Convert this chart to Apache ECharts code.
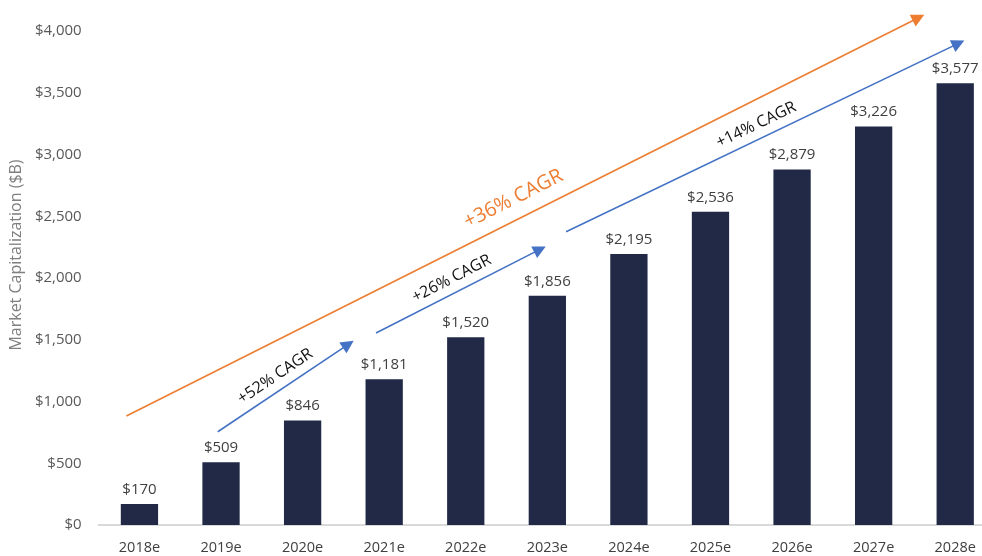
<!DOCTYPE html>
<html>
<head>
<meta charset="utf-8">
<script src="https://cdn.jsdelivr.net/npm/echarts@6/dist/echarts.min.js"></script>
<style>html,body{margin:0;padding:0;background:#fff;overflow:hidden;width:982px;height:556px}#c{width:996px;height:556px}</style>
</head>
<body>
<div id="c"></div>
<script>
var categories = ['2018e','2019e','2020e','2021e','2022e','2023e','2024e','2025e','2026e','2027e','2028e'];
var marketCap = [170, 509, 846, 1181, 1520, 1856, 2195, 2536, 2879, 3226, 3577];
var yTicks = {min: 0, max: 4000, interval: 500};
// Annotation arrows in data units (x: category band units from left edge, y: $B)
var arrowTotal = [[0.34, 883], [10.05, 4108]];
var arrowSeg1 = [[1.46, 755], [3.06, 1463]];
var arrowSeg2 = [[3.40, 1555], [5.41, 2232]];
var arrowSeg3 = [[5.73, 2375], [10.54, 3900]];
var arrowLabels = ['+36% CAGR', '+52% CAGR', '+26% CAGR', '+14% CAGR'];

var FONT = 'Open Sans';
var chart = echarts.init(document.getElementById('c'), null, {renderer: 'canvas'});
function money(v){ return '$' + Number(v).toLocaleString('en-US'); }

chart.setOption({
  animation: false,
  textStyle: {fontFamily: FONT},
  grid: {left: 97, top: 31, right: 0, bottom: 31, containLabel: false},
  xAxis: [{
    type: 'category',
    data: categories,
    axisLine: {lineStyle: {color: '#d9d9d9', width: 2}},
    axisTick: {show: false},
    axisLabel: {color: '#404040', fontSize: 14.5, margin: 15, fontFamily: FONT}
  }, {
    type: 'value', min: 0, max: 11, show: false
  }],
  yAxis: {
    type: 'value',
    min: yTicks.min, max: yTicks.max, interval: yTicks.interval,
    name: 'Market Capitalization ($B)',
    nameLocation: 'middle',
    nameGap: 70,
    nameTextStyle: {color: '#7f7f7f', fontSize: 16, fontFamily: FONT, padding: [0, 0, 0, 46]},
    axisLine: {show: false},
    axisTick: {show: false},
    splitLine: {show: false},
    axisLabel: {color: '#595959', fontSize: 15, margin: 17, fontFamily: FONT, formatter: money}
  },
  series: [{
    type: 'bar',
    data: marketCap,
    barWidth: '45.7%',
    itemStyle: {color: '#212946'},
    label: {show: true, position: 'top', distance: 7, color: '#404040', fontSize: 15, fontFamily: FONT,
      formatter: function(p){ return money(p.value); }}
  }, {
    type: 'lines',
    coordinateSystem: 'cartesian2d',
    xAxisIndex: 1, yAxisIndex: 0,
    clip: false,
    symbol: ['none', 'triangle'],
    symbolSize: [12, 13],
    lineStyle: {color: '#ED7D31', width: 1.6, opacity: 1},
    label: {show: true, position: 'insideMiddleTop', distance: 10, color: '#ED7D31', fontSize: 20, fontFamily: FONT,
      formatter: arrowLabels[0]},
    data: [{coords: arrowTotal}]
  }, {
    type: 'lines',
    coordinateSystem: 'cartesian2d',
    xAxisIndex: 1, yAxisIndex: 0,
    clip: false,
    symbol: ['none', 'triangle'],
    symbolSize: [12, 13],
    lineStyle: {color: '#4472C4', width: 1.6, opacity: 1},
    label: {show: true, position: 'insideMiddleTop', distance: 6, color: '#111111', fontSize: 16, fontFamily: FONT},
    data: [
      {coords: arrowSeg1, label: {formatter: arrowLabels[1]}},
      {coords: arrowSeg2, label: {formatter: arrowLabels[2]}},
      {coords: arrowSeg3, label: {formatter: arrowLabels[3]}}
    ]
  }]
});
</script>
</body>
</html>
